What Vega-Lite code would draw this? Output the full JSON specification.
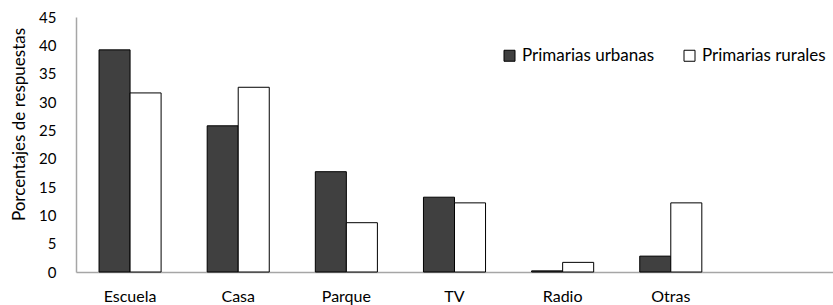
{
  "$schema": "https://vega.github.io/schema/vega-lite/v6.json",
  "width": 757,
  "height": 255,
  "autosize": {"type": "none"},
  "padding": {"left": 76, "top": 17, "right": 0, "bottom": 33},
  "background": "white",
  "config": {
    "font": "Lato",
    "view": {"stroke": null}
  },
  "data": {
    "values": [
      {"cat": "Escuela", "grupo": "Primarias urbanas", "valor": 39.2},
      {"cat": "Escuela", "grupo": "Primarias rurales", "valor": 31.6},
      {"cat": "Casa", "grupo": "Primarias urbanas", "valor": 25.8},
      {"cat": "Casa", "grupo": "Primarias rurales", "valor": 32.6},
      {"cat": "Parque", "grupo": "Primarias urbanas", "valor": 17.7},
      {"cat": "Parque", "grupo": "Primarias rurales", "valor": 8.7},
      {"cat": "TV", "grupo": "Primarias urbanas", "valor": 13.2},
      {"cat": "TV", "grupo": "Primarias rurales", "valor": 12.2},
      {"cat": "Radio", "grupo": "Primarias urbanas", "valor": 0.2},
      {"cat": "Radio", "grupo": "Primarias rurales", "valor": 1.7},
      {"cat": "Otras", "grupo": "Primarias urbanas", "valor": 2.8},
      {"cat": "Otras", "grupo": "Primarias rurales", "valor": 12.2}
    ]
  },
  "mark": {"type": "bar", "stroke": "black", "strokeWidth": 1},
  "encoding": {
    "x": {
      "field": "cat",
      "type": "nominal",
      "scale": {"domain": ["Escuela", "Casa", "Parque", "TV", "Radio", "Otras", " "], "paddingInner": 0.426, "paddingOuter": 0.213},
      "axis": {
        "title": null,
        "labelAngle": 0,
        "ticks": false,
        "domainColor": "#a6a6a6",
        "domainWidth": 1.5,
        "labelFontSize": 16,
        "labelColor": "black",
        "labelPadding": 16
      }
    },
    "xOffset": {
      "field": "grupo",
      "type": "nominal",
      "sort": ["Primarias urbanas", "Primarias rurales"],
      "scale": {"paddingInner": 0, "paddingOuter": 0}
    },
    "y": {
      "field": "valor",
      "type": "quantitative",
      "scale": {"domain": [0, 45], "nice": false},
      "axis": {
        "title": "Porcentajes de  respuestas",
        "titleFontSize": 17,
        "titleFontWeight": "normal",
        "titleColor": "black",
        "titlePadding": 10,
        "titleY": 107,
        "values": [0, 5, 10, 15, 20, 25, 30, 35, 40, 45],
        "grid": false,
        "ticks": false,
        "domainColor": "#a6a6a6",
        "domainWidth": 1.5,
        "labelFontSize": 15,
        "labelColor": "black",
        "labelPadding": 20
      }
    },
    "fill": {
      "field": "grupo",
      "type": "nominal",
      "sort": ["Primarias urbanas", "Primarias rurales"],
      "scale": {"domain": ["Primarias urbanas", "Primarias rurales"], "range": ["#404040", "#ffffff"]},
      "legend": {
        "title": null,
        "orient": "none",
        "direction": "horizontal",
        "legendX": 425,
        "legendY": 30,
        "symbolType": "square",
        "symbolSize": 121,
        "symbolStrokeColor": "black",
        "symbolStrokeWidth": 1,
        "labelFontSize": 17,
        "labelColor": "black",
        "labelOffset": 4,
        "columnPadding": 26
      }
    }
  }
}
